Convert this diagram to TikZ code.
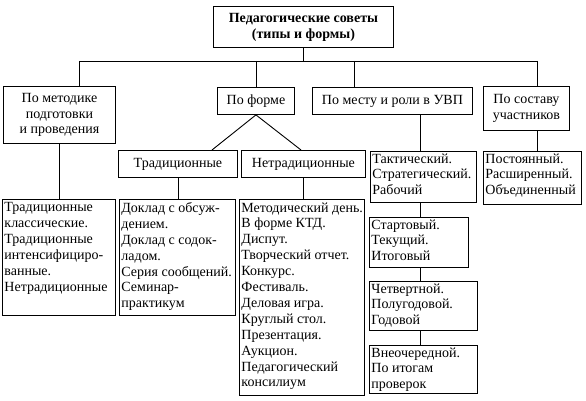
\documentclass[tikz,border=0pt]{standalone}
\usepackage{fontspec}
\setmainfont{Liberation Serif}
\newfontfamily\tnr{Liberation Serif}
\begin{document}
\begin{tikzpicture}[x=1pt,y=-1pt,line width=0.9pt,
  box/.style={draw,rectangle,inner sep=0pt,anchor=north west},
  lbl/.style={inner sep=0pt,align=center,font=\tnr\fontsize{14}{15.6}\selectfont},
  txt/.style={inner sep=0pt,anchor=north west,align=left,font=\tnr\fontsize{14}{15.9}\selectfont}]
\useasboundingbox (0,0) rectangle (586,401);
% top
\node[box,minimum width=180pt,minimum height=41pt] (top) at (213,6) {};
\node[lbl,font=\tnr\fontsize{14}{16}\selectfont\bfseries] (topt) at (top.center) {Педагогические советы\\(типы и формы)};
% level 1
\node[box,minimum width=112pt,minimum height=57pt] (met) at (3,86) {};
\node[lbl] (mett) at (met.center) {По методике\\подготовки\\и проведения};
\node[box,minimum width=77pt,minimum height=27pt] (form) at (217,87) {};
\node[lbl] (formt) at (form.center) {По форме};
\node[box,minimum width=160pt,minimum height=27pt] (mesto) at (312,87) {};
\node[lbl] (mestot) at (mesto.center) {По месту и роли в УВП};
\node[box,minimum width=86pt,minimum height=44pt] (sost) at (483,86) {};
\node[lbl] (sostt) at (sost.center) {По составу\\участников};
% level 2
\node[box,minimum width=119pt,minimum height=27pt] (trad) at (118,150) {};
\node[lbl] (tradt) at (trad.center) {Традиционные};
\node[box,minimum width=124pt,minimum height=27pt] (netr) at (241,150) {};
\node[lbl] (netrt) at (netr.center) {Нетрадиционные};
% bottom boxes
\node[box,minimum width=113pt,minimum height=116pt] (b1) at (2,199) {};
\node[txt] (b1t) at ([shift={(2,3)}]b1.north west) {Традиционные\\классические.\\Традиционные\\интенсифициро-\\ванные.\\Нетрадиционные};
\node[box,minimum width=116pt,minimum height=116pt] (b2) at (119,199) {};
\node[txt] (b2t) at ([shift={(2,3)}]b2.north west) {Доклад с обсуж-\\дением.\\Доклад с содок-\\ладом.\\Серия сообщений.\\Семинар-\\практикум};
\node[box,minimum width=125pt,minimum height=196pt] (b3) at (239,199) {};
\node[txt] (b3t) at ([shift={(2,3)}]b3.north west) {Методический день.\\В форме КТД.\\Диспут.\\Творческий отчет.\\Конкурс.\\Фестиваль.\\Деловая игра.\\Круглый стол.\\Презентация.\\Аукцион.\\Педагогический\\консилиум};
% right column
\node[box,minimum width=106pt,minimum height=51pt] (tact) at (370,151) {};
\node[txt] (tactt) at ([shift={(2,2)}]tact.north west) {Тактический.\\Стратегический.\\Рабочий};
\node[box,minimum width=99pt,minimum height=50pt] (start) at (369,217) {};
\node[txt] (startt) at ([shift={(2,2)}]start.north west) {Стартовый.\\Текущий.\\Итоговый};
\node[box,minimum width=108pt,minimum height=49pt] (chet) at (369,281) {};
\node[txt] (chett) at ([shift={(2,2)}]chet.north west) {Четвертной.\\Полугодовой.\\Годовой};
\node[box,minimum width=108pt,minimum height=48pt] (vne) at (369,345) {};
\node[txt] (vnet) at ([shift={(2,2)}]vne.north west) {Внеочередной.\\По итогам\\проверок};
\node[box,minimum width=98pt,minimum height=53pt] (post) at (483,151) {};
\node[txt] (postt) at ([shift={(2,2)}]post.north west) {Постоянный.\\Расширенный.\\Объединенный};
% connectors
\coordinate (busL) at (79,61);
\coordinate (busR) at (537,61);
\coordinate (busM) at (354,61);
\coordinate (busF) at (256,61);
\coordinate (dl) at (212,150);
\coordinate (dr) at (301,150);
\coordinate (vr) at (420,151);
\draw (top.south) -- (top.south |- busL);
\draw (busL) -- (busR);
\draw (busL) -- (busL |- met.north);
\draw (busF) -- (busF |- form.north);
\draw (busM) -- (busM |- mesto.north);
\draw (busR) -- (busR |- sost.north);
\draw (form.south) -- (dl);
\draw (form.south) -- (dr);
\draw (met.south) -- (met.south |- b1.north);
\draw (trad.south) -- (trad.south |- b2.north);
\draw (netr.south) -- (netr.south |- b3.north);
\draw (vr |- mesto.south) -- (vr);
\draw (vr |- tact.south) -- (vr |- start.north);
\draw (vr |- start.south) -- (vr |- chet.north);
\draw (vr |- chet.south) -- (vr |- vne.north);
\draw (busR |- sost.south) -- (busR |- post.north);
\end{tikzpicture}
\end{document}
